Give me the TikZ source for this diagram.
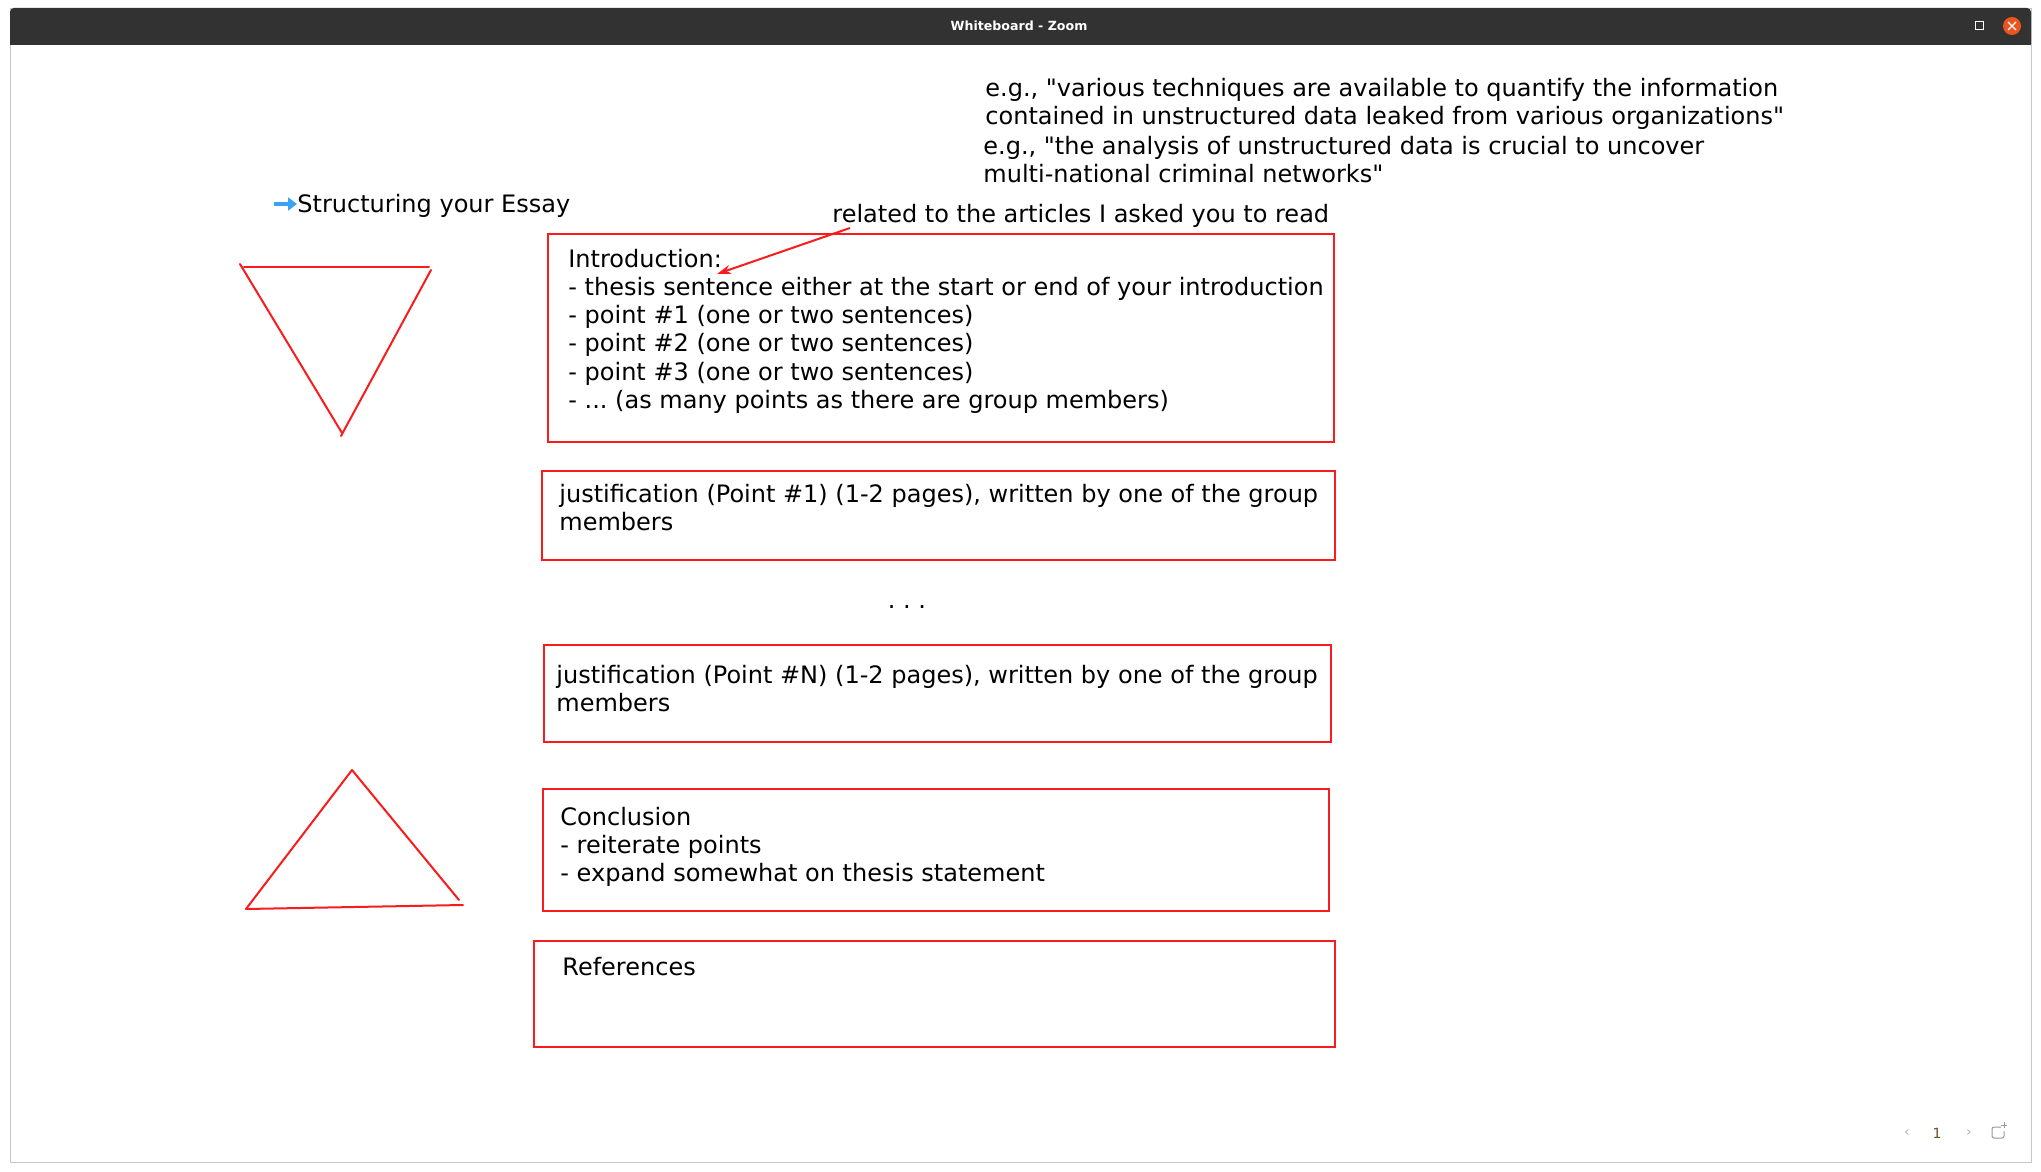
\documentclass[tikz,border=0pt]{standalone}
\usepackage{fontspec}
\setmainfont{DejaVu Sans}
\newfontfamily\wbfont{DejaVu Sans}
\usetikzlibrary{arrows.meta}
\definecolor{wbred}{RGB}{250,28,28}
\definecolor{wbblue}{RGB}{58,162,245}
\definecolor{barcol}{RGB}{50,50,50}
\definecolor{closecol}{RGB}{233,84,32}
\definecolor{pagecol}{RGB}{105,78,40}
\frenchspacing
\begin{document}
\begin{tikzpicture}[x=0.5pt,y=-0.5pt,
    box/.style={draw=wbred,line width=1pt,inner sep=0pt,outer sep=0pt,anchor=north west},
    txt/.style={inner sep=0pt,anchor=base west,font=\wbfont\fontsize{12}{14}\selectfont},
    pen/.style={wbred,line width=1pt,line cap=round},
    chrome/.style={inner sep=0pt,font=\wbfont\fontsize{7}{8}\selectfont}]
  \useasboundingbox (0,0) rectangle (2041,1172);
  %-------------------------------------------------- the window
  \fill[white] (0,0) rectangle (2041,1172);
  \draw[black!22] (10,8) rectangle (2031,1162);
  \fill[barcol] (10,44) [rounded corners=2pt] -- (10,8) -- (2031,8)
    [sharp corners] -- (2031,44) -- cycle;
  \draw[black!80] (10,44) -- (2031,44);
  \node[chrome,white,font=\wbfont\bfseries\fontsize{6.3}{7}\selectfont]
    (title) at (1019,26) {Whiteboard - Zoom};
  \draw[white,line width=0.5pt] (1975,22) rectangle (1983,30);
  \node[circle,fill=closecol,minimum size=9pt,inner sep=0pt] (close) at (2012,26) {};
  \draw[white,line width=0.6pt] (2008,22) -- (2016,30) (2008,30) -- (2016,22);
  \node[chrome,black!30] (prev) at (1907,1133) {‹};
  \node[chrome,pagecol] (page) at (1937,1133) {1};
  \node[chrome,black!30] (next) at (1969,1133) {›};
  \draw[black!40,line width=0.5pt,rounded corners=1pt]
    (2001,1127) -- (1992,1127) -- (1992,1138) -- (2004,1138) -- (2004,1131);
  \draw[black!40,line width=0.5pt] (2004,1122) -- (2004,1128) (2001,1125) -- (2007,1125);
  %-------------------------------------------------- notes at the top
  \node[txt] (eg1a) at (985,97)  {e.g., "various techniques are available to quantify the information};
  \node[txt] (eg1b) at (985,125) {contained in unstructured data leaked from various organizations"};
  \node[txt] (eg2a) at (983,155) {e.g., "the analysis of unstructured data is crucial to uncover};
  \node[txt] (eg2b) at (983,183) {multi-national criminal networks"};
  \node[txt] (heading) at (297,213) {Structuring your Essay};
  \coordinate (bullet) at (274,204);
  \draw[wbblue,line width=2.4pt,-{Triangle[length=4.5pt,width=6.5pt]}]
    (bullet) -- (bullet -| heading.west);
  \node[txt] (related) at (832,222) {related to the articles I asked you to read};
  %-------------------------------------------------- the boxes
  \node[box,minimum width=393pt,minimum height=104pt] (intro) at (548,234) {};
  \foreach \ln [count=\i from 0] in {Introduction:,
      - thesis sentence either at the start or end of your introduction,
      - point \#1 (one or two sentences),
      - point \#2 (one or two sentences),
      - point \#3 (one or two sentences)}{
    \node[txt] (introline\i) at (568,{267+28.3*\i}) {\ln};
  }
  \node[txt] (introline5) at (568,{267+28.3*5}) {- ... (as many points as there are group members)};
  \coordinate (thesis) at (717,274);
  \draw[wbred,line width=1pt,-{Stealth[length=7pt,width=4.5pt]}]
    ([xshift=9pt,yshift=-3pt]related.base west) -- (thesis);

  \node[box,minimum width=396.5pt,minimum height=44.5pt] (first) at (542,471) {};
  \node[txt] (firsta) at (559,502) {justification (Point \#1) (1-2 pages), written by one of the group};
  \node[txt] (firstb) at (559,530) {members};

  \node[txt,anchor=base] (dots) at (907,608) {. . .};

  \node[box,minimum width=393.5pt,minimum height=48.5pt] (last) at (544,645) {};
  \node[txt] (lasta) at (556,683) {justification (Point \#N) (1-2 pages), written by one of the group};
  \node[txt] (lastb) at (556,711) {members};

  \node[box,minimum width=393pt,minimum height=61pt] (concl) at (543,789) {};
  \node[txt] (concla) at (560,825) {Conclusion};
  \node[txt] (conclb) at (560,853) {- reiterate points};
  \node[txt] (conclc) at (560,881) {- expand somewhat on thesis statement};

  \node[box,minimum width=400.5pt,minimum height=53pt] (refs) at (534,941) {};
  \node[txt] (refsa) at (562,975) {References};
  %-------------------------------------------------- the two funnels
  \draw[pen] (244,267) -- (429,267);
  \draw[pen] (240,264) -- (342,433);
  \draw[pen] (431,270) -- (341,436);
  \draw[pen] (352,770) -- (246,909);
  \draw[pen] (352,770) -- (459,900);
  \draw[pen] (246,909) -- (463,905);
\end{tikzpicture}
\end{document}
